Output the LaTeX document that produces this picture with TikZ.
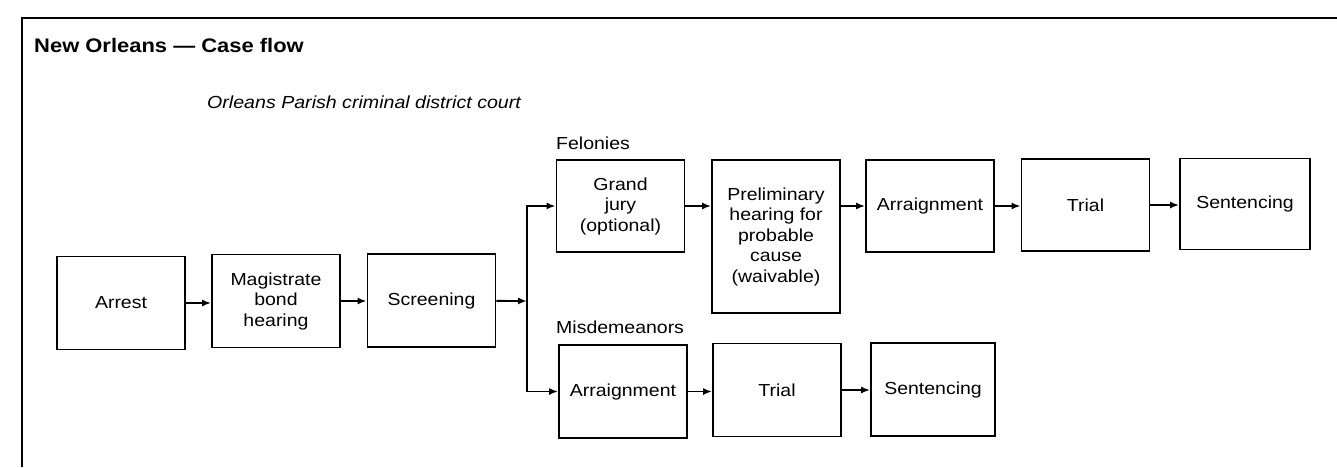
\documentclass[tikz,border=0pt]{standalone}
\usepackage{fontspec}
\setmainfont{Liberation Sans}[FakeStretch=1.12]
\usetikzlibrary{arrows.meta}

\begin{document}
\begin{tikzpicture}[x=1pt, y=-1pt, >={Latex[length=9pt,width=7pt]},
  stage/.style={draw, line width=1.8pt, minimum width=128pt, minimum height=93pt,
    align=center, inner sep=2pt, font=\fontsize{17.4}{20.5}\selectfont},
  heading/.style={anchor=west, inner sep=0pt, font=\fontsize{17.4}{20.5}\selectfont},
  flow/.style={->, line width=1.8pt}]
  \useasboundingbox (0,0) rectangle (1337,467);

  % frame
  \draw[line width=1.5pt] (1337,18) -- (22,18) -- (22,467);

  % headings
  \node[heading, font=\bfseries\fontsize{19.6}{24}\selectfont] (title) at (34,45) {New Orleans — Case flow};
  \node[heading, font=\itshape\fontsize{17.5}{21}\selectfont] (court) at (207,102) {Orleans Parish criminal district court};
  \node[heading] (fel) at (556,143) {Felonies};
  \node[heading] (misd) at (556,327) {Misdemeanors};

  % before the court
  \node[stage] (arrest) at (121,303) {Arrest};
  \node[stage] (bond) at (276,301) {Magistrate\\bond\\hearing};
  \node[stage] (screen) at (431.5,300.5) {Screening};
  \coordinate (split) at (527,301);

  % felonies
  \node[stage, minimum height=92pt] (jury) at (620.5,206) {Grand\\jury\\(optional)};
  \node[stage, minimum height=153pt] (prelim) at (776,236.5) {Preliminary\\hearing for\\probable\\cause\\(waivable)};
  \node[stage, minimum height=92pt] (farraign) at (930,206) {Arraignment};
  \node[stage, minimum height=92pt] (ftrial) at (1085.5,205) {Trial};
  \node[stage, minimum width=130pt, minimum height=91pt] (fsentence) at (1245,204) {Sentencing};

  % misdemeanors
  \node[stage] (marraign) at (623,391.5) {Arraignment};
  \node[stage] (mtrial) at (777,390) {Trial};
  \node[stage, minimum width=124pt] (msentence) at (933,389.5) {Sentencing};

  % connectors
  \draw[flow] (arrest) -- (arrest -| bond.west);
  \draw[flow] (bond) -- (bond -| screen.west);
  \draw[flow] (screen) -- (split);
  \draw[flow] (split) |- (jury);
  \draw[flow] (split) |- (marraign);
  \draw[flow] (jury) -- (jury -| prelim.west);
  \draw[flow] (prelim.east |- farraign) -- (farraign);
  \draw[flow] (farraign) -- (farraign -| ftrial.west);
  \draw[flow] (ftrial) -- (ftrial -| fsentence.west);
  \draw[flow] (marraign) -- (marraign -| mtrial.west);
  \draw[flow] (mtrial) -- (mtrial -| msentence.west);
\end{tikzpicture}
\end{document}
